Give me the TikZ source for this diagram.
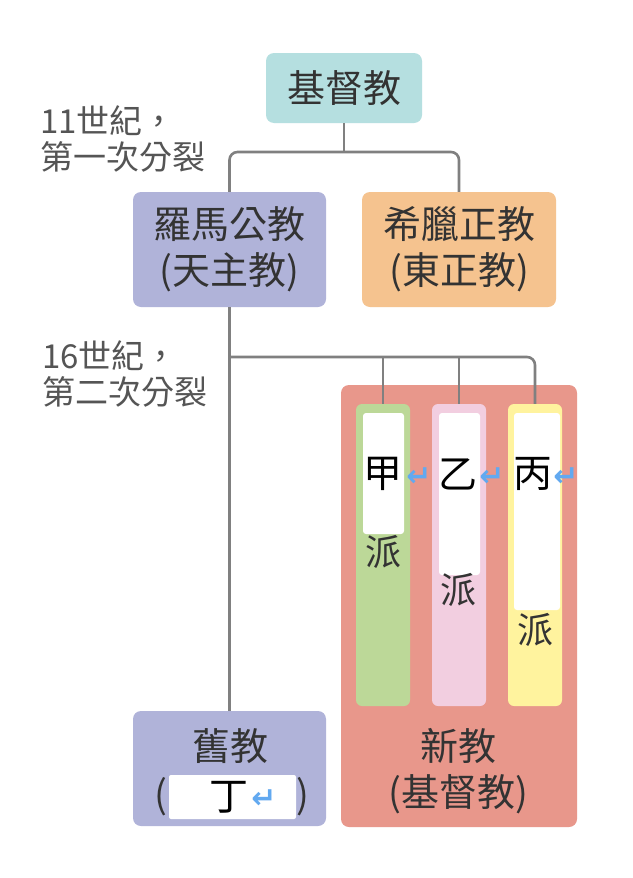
\documentclass[tikz,border=0pt]{standalone}
\usepackage{fontspec}
\setmainfont{Noto Sans CJK TC}
\newfontfamily\cjkfont{Noto Sans CJK TC}
\newfontfamily\arrowfont{DejaVu Sans}
\definecolor{cteal}{HTML}{B5DFE0}
\definecolor{clav}{HTML}{B0B3D9}
\definecolor{corange}{HTML}{F5C38F}
\definecolor{csalmon}{HTML}{E8978B}
\definecolor{cgreen}{HTML}{BCD898}
\definecolor{cpink}{HTML}{F2CEE0}
\definecolor{cyellow}{HTML}{FFF39E}
\definecolor{ctext}{HTML}{333333}
\definecolor{clabel}{HTML}{555555}
\definecolor{cline}{HTML}{808080}
\definecolor{cblue}{HTML}{62A9F0}
\begin{document}
\begin{tikzpicture}[x=1pt,y=-1pt,
  box/.style={rounded corners=8pt, inner sep=0pt, text=ctext, align=center,
    font=\cjkfont\fontsize{38}{46}\selectfont},
  colbox/.style={rounded corners=6pt, inner sep=0pt, minimum width=54pt, minimum height=302pt},
  whitebox/.style={fill=white, rounded corners=3pt, inner sep=0pt},
  conn/.style={draw=cline, line width=2.6pt},
  sidelabel/.style={anchor=west, text=clabel, inner sep=0pt, font=\cjkfont\fontsize{33}{36}\selectfont},
  glyph/.style={text=black, inner sep=0pt, font=\cjkfont\fontsize{39}{40}\selectfont},
  retarrow/.style={text=cblue, inner sep=0pt, font=\arrowfont\bfseries\fontsize{30}{32}\selectfont},
  pai/.style={text=ctext, inner sep=0pt, font=\cjkfont\fontsize{36}{38}\selectfont}]
\useasboundingbox (0,0) rectangle (632,878);
\fill[white] (0,0) rectangle (632,878);

% boxes
\node[box, fill=cteal, minimum width=156pt, minimum height=70pt] (jdj) at (344,88) {基督教};
\node[box, fill=clav, minimum width=193pt, minimum height=115pt] (roma) at (229.5,249.5) {羅馬公教\\(天主教)};
\node[box, fill=corange, minimum width=194pt, minimum height=115pt] (greek) at (459,249.5) {希臘正教\\(東正教)};
\node[box, fill=clav, minimum width=193pt, minimum height=115pt] (old) at (229.5,768.5) {};
\node[box, fill=csalmon, minimum width=236pt, minimum height=442pt] (new) at (459,606) {};

% columns
\node[colbox, fill=cgreen] (colA) at (383,555) {};
\node[colbox, fill=cpink] (colB) at (459,555) {};
\node[colbox, fill=cyellow] (colC) at (535,555) {};
\node[whitebox, minimum width=41pt, minimum height=121pt] (wA) at (383.5,473.5) {};
\node[whitebox, minimum width=41pt, minimum height=162pt] (wB) at (459.5,494) {};
\node[whitebox, minimum width=46pt, minimum height=197pt] (wC) at (537,511.5) {};

% connectors
\coordinate (s1) at (344,152);
\draw[conn] (jdj.south) -- (s1);
\draw[conn, rounded corners=8pt] (roma.north) |- (s1) -| (greek.north);
\coordinate (s2) at (230,357);
\draw[conn] (roma.south) -- (old.north);
\draw[conn, rounded corners=8pt] (s2) -| (colC.north);
\draw[conn] (colA.north |- s2) -- (colA.north);
\draw[conn] (colB.north |- s2) -- (colB.north);

% side labels
\node[sidelabel] (l1a) at (40,121) {11世紀，};
\node[sidelabel] (l1b) at (40,157) {第一次分裂};
\node[sidelabel] (l2a) at (42,356) {16世紀，};
\node[sidelabel] (l2b) at (42,392) {第二次分裂};

% column texts
\node[glyph] (tA) at (383,474) {甲};
\node[retarrow] (rA) at (419,477) {↵};
\node[glyph] (tB) at (458,474) {乙};
\node[retarrow] (rB) at (492,477) {↵};
\node[glyph] (tC) at (533,474) {丙};
\node[retarrow] (rC) at (566,477) {↵};
\node[pai] (pA) at (383,552) {派};
\node[pai] (pB) at (458,590) {派};
\node[pai] (pC) at (535,630) {派};

% new box text
\node[box] (newtext) at (458,771) {新教\\(基督教)};

% old box text
\node[box] (oldtext) at (230,746) {舊教};
\node[box] (lp) at (161,797) {(};
\node[box] (rp) at (303,797) {)};
\node[whitebox, rounded corners=2pt, minimum width=127pt, minimum height=44pt] (wD) at (232.5,797) {};
\node[glyph] (tD) at (229,797) {丁};
\node[retarrow] (rD) at (264,799) {↵};
\end{tikzpicture}
\end{document}
